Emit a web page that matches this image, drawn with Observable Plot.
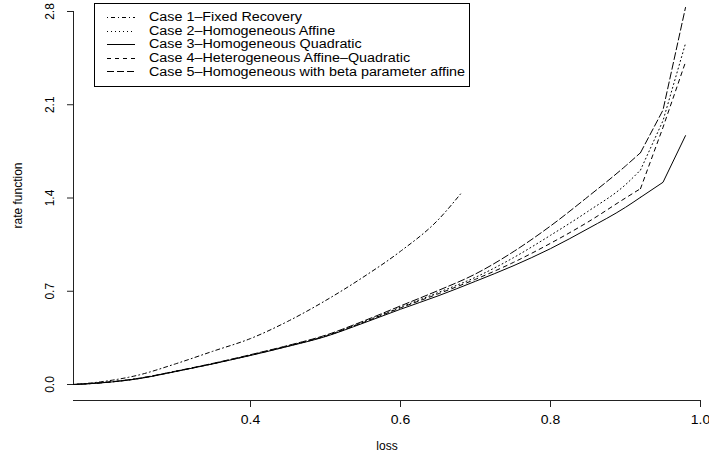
<!DOCTYPE html>
<html>
<head>
<meta charset="utf-8">
<script src="https://cdn.jsdelivr.net/npm/d3@7"></script>
<script src="https://cdn.jsdelivr.net/npm/@observablehq/plot@0.6"></script>
<style>
  html, body { margin: 0; padding: 0; background: #fff; }
  #chart { position: relative; width: 709px; height: 457px; overflow: hidden; }
  #legend { position: absolute; left: 0; top: 0; }
</style>
</head>
<body>
<div id="chart"></div>
<script>
// ---- data ----
const caseNames = [
  "Case 1\u2013Fixed Recovery",
  "Case 2\u2013Homogeneous Affine",
  "Case 3\u2013Homogeneous Quadratic",
  "Case 4\u2013Heterogeneous Affine\u2013Quadratic",
  "Case 5\u2013Homogeneous with beta parameter affine"
];
const caseDash = ["1,3,4,3", "1,3", null, "4,4", "7,3"];

const case1Loss = [0.164, 0.2, 0.25, 0.3, 0.35, 0.4, 0.45, 0.5, 0.55, 0.6, 0.65, 0.68];
const case1Rate = [0, 0.02, 0.07, 0.155, 0.25, 0.345, 0.475, 0.63, 0.805, 1.0, 1.235, 1.43];

const lossGrid = [0.164, 0.2, 0.25, 0.3, 0.35, 0.4, 0.45, 0.5, 0.55, 0.6, 0.65, 0.7, 0.75, 0.8, 0.85, 0.9, 0.92, 0.95, 0.98];
const case2Rate = [0, 0.013, 0.045, 0.099, 0.157, 0.221, 0.29, 0.365, 0.468, 0.58, 0.69, 0.805, 0.95, 1.12, 1.30, 1.50, 1.61, 1.98, 2.56];
const case3Rate = [0, 0.012, 0.043, 0.097, 0.155, 0.218, 0.286, 0.36, 0.46, 0.565, 0.665, 0.775, 0.89, 1.02, 1.17, 1.33, 1.405, 1.518, 1.868];
const case4Rate = [0, 0.012, 0.044, 0.098, 0.156, 0.22, 0.288, 0.363, 0.465, 0.575, 0.68, 0.79, 0.915, 1.06, 1.22, 1.40, 1.47, 1.93, 2.42];
const case5Rate = [0, 0.013, 0.046, 0.1, 0.159, 0.224, 0.293, 0.37, 0.475, 0.59, 0.705, 0.83, 0.995, 1.19, 1.41, 1.64, 1.74, 2.06, 2.83];

const xTicks = [0.4, 0.6, 0.8, 1.0];
const yTicks = [0.0, 0.7, 1.4, 2.1, 2.8];
const xDomain = [0.164, 1.0];
const yDomain = [-0.12, 2.8825];
const xTitle = "loss";
const yTitle = "rate function";
const smoothUntil = 0.92; // points beyond are joined by straight segments

// ---- build series ----
const series = [
  {loss: case1Loss, rate: case1Rate},
  {loss: lossGrid, rate: case2Rate},
  {loss: lossGrid, rate: case3Rate},
  {loss: lossGrid, rate: case4Rate},
  {loss: lossGrid, rate: case5Rate}
].map((s, i) => s.loss.map((x, j) => ({name: caseNames[i], x, y: s.rate[j]})));

const FONT = "'Liberation Sans', Arial, Helvetica, sans-serif";
const STRETCH = 1.17;

const curveMarks = [];
series.forEach((d, i) => {
  const dash = caseDash[i] || undefined;
  curveMarks.push(Plot.line(d.filter(p => p.x <= smoothUntil), {
    x: "x", y: "y", stroke: "#000", strokeWidth: 1, strokeDasharray: dash, curve: "monotone-x"
  }));
  const tail = d.filter(p => p.x >= smoothUntil);
  if (tail.length > 1) {
    curveMarks.push(Plot.line(tail, {
      x: "x", y: "y", stroke: "#000", strokeWidth: 1, strokeDasharray: dash
    }));
  }
});

const plot = Plot.plot({
  width: 709,
  height: 457,
  marginLeft: 73,
  marginRight: 9,
  marginTop: 0,
  marginBottom: 57,
  x: {domain: xDomain},
  y: {domain: yDomain},
  style: {fontFamily: FONT, fontSize: "12px", background: "#fff", color: "#000"},
  marks: [
    // axis lines
    Plot.ruleX([xDomain[0]], {y1: yTicks[0], y2: yTicks[yTicks.length - 1], stroke: "#222", strokeWidth: 1}),
    Plot.ruleY([yDomain[0]], {x1: xDomain[0], x2: xDomain[1], stroke: "#222", strokeWidth: 1}),
    Plot.axisY({ticks: yTicks, tickSize: 6, tickFormat: () => "", label: null, stroke: "#222"}),
    Plot.text(yTicks, {y: d => d, text: d => d.toFixed(1), frameAnchor: "left", textAnchor: "middle", lineAnchor: "middle", dx: -23, rotate: -90, fill: "#000", fontSize: 12}),
    Plot.axisX({ticks: xTicks, tickSize: 7, tickPadding: 8, tickFormat: d => d.toFixed(1), label: null, stroke: "#222", fill: "#000"}),
    Plot.text([xTitle], {frameAnchor: "bottom", textAnchor: "middle", lineAnchor: "middle", dy: 46, fill: "#000", fontSize: 12, ariaLabel: "xtitle"}),
    Plot.text([yTitle], {frameAnchor: "left", textAnchor: "middle", lineAnchor: "middle", dx: -55, dy: -5, rotate: -90, fill: "#000", fontSize: 12}),
    ...curveMarks
  ]
});

const chart = document.getElementById("chart");
chart.appendChild(plot);

// horizontal stretch of horizontal texts (reference is stretched horizontally)
d3.select(plot).selectAll('g[aria-label="x-axis tick label"] text, g[aria-label="xtitle"] text').each(function() {
  const w = this.getComputedTextLength();
  this.setAttribute("textLength", (w * STRETCH).toFixed(1));
  this.setAttribute("lengthAdjust", "spacingAndGlyphs");
});

// ---- legend (R style box) ----
const lg = d3.select(chart).append("svg")
  .attr("id", "legend").attr("width", 709).attr("height", 457)
  .style("font-family", FONT).style("font-size", "12px");
lg.append("rect")
  .attr("x", 94.5).attr("y", 3.5).attr("width", 375).attr("height", 83)
  .attr("fill", "#fff").attr("stroke", "#000").attr("stroke-width", 1);
const rowY = i => 17 + i * 13.6;
const longestTarget = 316;
let natural = 0;
const texts = [];
caseNames.forEach((name, i) => {
  const ln = lg.append("line")
    .attr("x1", 107).attr("x2", 135)
    .attr("y1", Math.round(rowY(i)) + 0.5).attr("y2", Math.round(rowY(i)) + 0.5)
    .attr("stroke", "#000").attr("stroke-width", 1);
  if (caseDash[i]) ln.attr("stroke-dasharray", caseDash[i]);
  const t = lg.append("text")
    .attr("x", 149).attr("y", rowY(i))
    .attr("dy", "0.35em")
    .attr("fill", "#000")
    .text(name);
  texts.push(t);
  natural = Math.max(natural, t.node().getComputedTextLength());
});
const k = longestTarget / natural;
texts.forEach(t => {
  const w = t.node().getComputedTextLength();
  t.attr("textLength", (w * k).toFixed(1)).attr("lengthAdjust", "spacingAndGlyphs");
});
</script>
</body>
</html>
